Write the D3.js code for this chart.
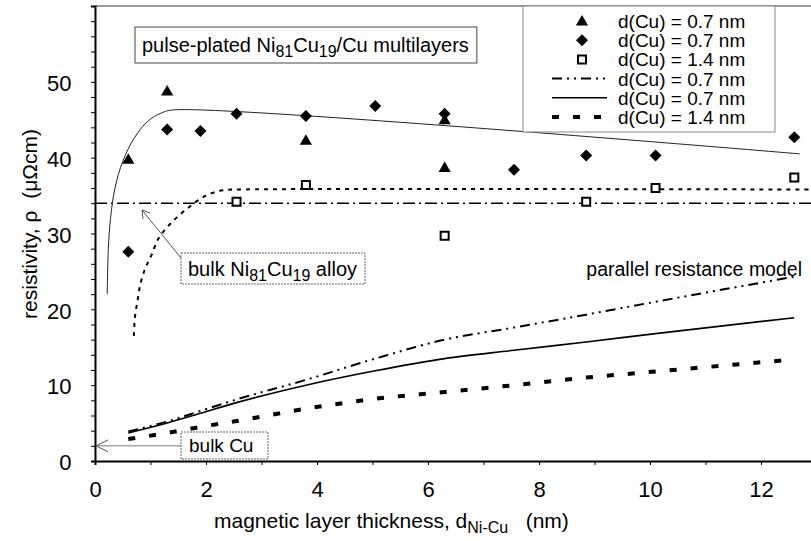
<!DOCTYPE html>
<html>
<head>
<meta charset="utf-8">
<script src="https://cdn.jsdelivr.net/npm/d3@7"></script>
<style>
  body { margin: 0; background: #fff; }
  text { font-family: "Liberation Sans", Arial, sans-serif; fill: #000; }
</style>
</head>
<body>
<script>
// measured points  [thickness nm, resistivity]
var triangles07 = [[0.6, 39.8], [1.3, 48.8], [3.8, 42.3], [6.3, 45.0], [6.3, 38.7]];
var diamonds07 = [[0.6, 27.6], [1.3, 43.7], [1.9, 43.5], [2.55, 45.8], [3.8, 45.5],
                  [5.05, 46.8], [6.3, 45.8], [7.55, 38.4], [8.85, 40.3], [10.1, 40.3], [12.6, 42.7]];
var squares14 = [[2.55, 34.2], [3.8, 36.4], [6.3, 29.7], [8.85, 34.2], [10.1, 36.0], [12.6, 37.4]];

// hand-drawn guide curves
var fitCurve07 = [[0.22, 22], [0.24, 28], [0.28, 32], [0.36, 36], [0.5, 39.5], [0.7, 42.5],
                  [0.95, 44.8], [1.2, 45.9], [1.42, 46.3], [12.7, 40.5]];
var fitCurve14 = [[0.7, 16.5], [0.72, 19], [0.77, 21.3], [0.82, 23.4], [0.9, 25.3], [1.02, 27.2],
                  [1.15, 29.4], [1.4, 31.6], [1.7, 33.5], [2.0, 35], [2.3, 35.7], [2.6, 35.8], [12.9, 35.8]];
var bulkAlloy = 34;
var bulkCu = 2;

// parallel resistance model
var modelX = [0.6, 1.3, 1.9, 2.5, 3.8, 5.05, 6.3, 7.55, 8.85, 10.1, 12.6];
var modelA = [3.9, 5.2, 6.6, 8.0, 10.7, 13.5, 16.0, 17.6, 19.3, 21.0, 24.3];
var modelB = [3.7, 5.0, 6.3, 7.6, 10.0, 11.9, 13.5, 14.6, 15.7, 16.8, 18.9];
var modelC = [2.9, 3.7, 4.5, 5.2, 6.9, 8.2, 9.1, 10.0, 11.0, 11.8, 13.4];

var legendLabels = ["d(Cu) = 0.7 nm", "d(Cu) = 0.7 nm", "d(Cu) = 1.4 nm",
                    "d(Cu) = 0.7 nm", "d(Cu) = 0.7 nm", "d(Cu) = 1.4 nm"];
var xTicks = [0, 2, 4, 6, 8, 10, 12];
var yTicks = [0, 10, 20, 30, 40, 50];

var width = 811, height = 541;
var svg = d3.select("body").append("svg")
    .attr("width", width)
    .attr("height", height);

var x = d3.scaleLinear().domain([0, 13]).range([95, 95 + 13 * 55.5]);
var y = d3.scaleLinear().domain([0, 60]).range([461, 6]);

var smooth = d3.line().curve(d3.curveMonotoneX)
    .x(function(d){ return x(d[0]); }).y(function(d){ return y(d[1]); });
var smoothY = d3.line().curve(d3.curveCatmullRom)
    .x(function(d){ return x(d[0]); }).y(function(d){ return y(d[1]); });

// top frame line
svg.append("line").attr("x1", 95).attr("x2", width).attr("y1", y(60)).attr("y2", y(60))
    .attr("stroke", "#333").attr("stroke-width", 1.2);

// axes
var xAxis = d3.axisBottom(x).tickValues(d3.range(0, 14, 1)).tickSize(4)
    .tickFormat(function(d){ return xTicks.indexOf(d) >= 0 ? d : ""; });
var gx = svg.append("g").attr("transform", "translate(0," + y(0) + ")").call(xAxis);
gx.select(".domain").attr("stroke-width", 2);
gx.selectAll("text").attr("font-size", 22).attr("dy", "1.3em")
    .attr("font-family", "Liberation Sans, Arial, sans-serif");

var yAxis = d3.axisLeft(y).tickValues(d3.range(0, 61, 2)).tickSize(4)
    .tickFormat(function(d){ return yTicks.indexOf(d) >= 0 ? d : ""; });
var gy = svg.append("g").attr("transform", "translate(" + x(0) + ",0)").call(yAxis);
gy.select(".domain").attr("stroke-width", 2);
gy.selectAll("text").attr("font-size", 22).attr("dx", "-0.75em").attr("dy", "0.4em")
    .attr("font-family", "Liberation Sans, Arial, sans-serif");

// axis titles
var xt = svg.append("text").attr("x", 214).attr("y", 528).attr("font-size", 21);
xt.append("tspan").text("magnetic layer thickness, d");
xt.append("tspan").attr("font-size", 16).attr("dy", 5).text("Ni-Cu");
xt.append("tspan").attr("dy", -5).text("\u00a0\u00a0\u00a0(nm)");

svg.append("text").attr("transform", "translate(37,224) rotate(-90)")
    .attr("text-anchor", "middle").attr("font-size", 21)
    .text("resistivity, \u03c1\u00a0\u00a0(\u03bc\u03a9cm)");

// bulk alloy horizontal line
svg.append("line").attr("x1", x(0)).attr("x2", width).attr("y1", y(bulkAlloy)).attr("y2", y(bulkAlloy))
    .attr("stroke", "#000").attr("stroke-width", 1.5).attr("stroke-dasharray", "12,4,2,4");

// guide curves
svg.append("path").attr("d", smoothY(fitCurve07)).attr("fill", "none")
    .attr("stroke", "#222").attr("stroke-width", 1);
svg.append("path").attr("d", smoothY(fitCurve14)).attr("fill", "none")
    .attr("stroke", "#000").attr("stroke-width", 2).attr("stroke-dasharray", "4,5");

// model lines
function pairs(vals){ return modelX.map(function(v, i){ return [v, vals[i]]; }); }
var modelStyles = [
  {vals: modelA, w: 2, dash: "10,5,2,5,2,5"},
  {vals: modelB, w: 1.6, dash: null},
  {vals: modelC, w: 4, dash: "7,14"}
];
modelStyles.forEach(function(m){
  svg.append("path").attr("d", smooth(pairs(m.vals))).attr("fill", "none")
    .attr("stroke", "#000").attr("stroke-width", m.w)
    .attr("stroke-dasharray", m.dash);
});

// markers
var triSym = d3.symbol().type(d3.symbolTriangle).size(64);
var diaSym = d3.symbol().type(d3.symbolSquare).size(72);
var sqSym = d3.symbol().type(d3.symbolSquare).size(64);

svg.selectAll(".tri").data(triangles07).enter().append("path").attr("class", "tri")
    .attr("d", triSym).attr("fill", "#000")
    .attr("transform", function(d){ return "translate(" + x(d[0]) + "," + (y(d[1]) + 1) + ")"; });
svg.selectAll(".dia").data(diamonds07).enter().append("path").attr("class", "dia")
    .attr("d", diaSym).attr("fill", "#000")
    .attr("transform", function(d){ return "translate(" + x(d[0]) + "," + y(d[1]) + ") rotate(45)"; });
svg.selectAll(".sq").data(squares14).enter().append("path").attr("class", "sq")
    .attr("d", sqSym).attr("fill", "#fff").attr("stroke", "#000").attr("stroke-width", 2)
    .attr("transform", function(d){ return "translate(" + x(d[0]) + "," + y(d[1]) + ")"; });

// legend
var lg = svg.append("g");
lg.append("rect").attr("x", 523).attr("y", 6).attr("width", 252).attr("height", 126)
    .attr("fill", "#fff").attr("stroke", "#888").attr("stroke-width", 1);
legendLabels.forEach(function(lbl, i){
  var cy = 21 + i * 19.2;
  lg.append("text").attr("x", 618).attr("y", cy + 7).attr("font-size", 19).text(lbl);
  if (i === 0) lg.append("path").attr("d", triSym).attr("transform", "translate(582," + (cy + 1) + ")");
  if (i === 1) lg.append("path").attr("d", diaSym).attr("transform", "translate(582," + cy + ") rotate(45)");
  if (i === 2) lg.append("path").attr("d", sqSym).attr("fill", "#fff").attr("stroke", "#000")
      .attr("stroke-width", 2).attr("transform", "translate(582," + cy + ")");
  if (i >= 3) {
    var m = modelStyles[i - 3];
    lg.append("line").attr("x1", 552).attr("x2", 607).attr("y1", cy).attr("y2", cy)
      .attr("stroke", "#000").attr("stroke-width", m.w).attr("stroke-dasharray", m.dash);
  }
});

// annotation boxes (box sized to its text)
function subText(g, xx, yy, fs, parts){
  var t = g.append("text").attr("x", xx).attr("y", yy).attr("font-size", fs);
  parts.forEach(function(p){
    if (p.sub) t.append("tspan").attr("font-size", fs * 0.8).attr("dy", 5).text(p.t);
    else t.append("tspan").attr("dy", p.back ? -5 : 0).text(p.t);
  });
  return t;
}
var t1 = subText(svg, 142, 52, 20, [{t: "pulse-plated Ni"}, {t: "81", sub: true}, {t: "Cu", back: true},
    {t: "19", sub: true}, {t: "/Cu multilayers", back: true}]);
var b1 = t1.node().getBBox();
svg.append("rect").attr("x", 135).attr("y", 27).attr("width", b1.x + b1.width + 8 - 135).attr("height", 36)
    .attr("fill", "#fff").attr("stroke", "#444").attr("stroke-width", 1);
t1.raise();

svg.append("line").attr("x1", 181).attr("y1", 258).attr("x2", 142).attr("y2", 210)
    .attr("stroke", "#555").attr("stroke-width", 1);
svg.append("path").attr("d", "M150,213 L142,210 L143,219").attr("fill", "none")
    .attr("stroke", "#555").attr("stroke-width", 1);
var t2 = subText(svg, 188, 276, 20, [{t: "bulk Ni"}, {t: "81", sub: true}, {t: "Cu", back: true},
    {t: "19", sub: true}, {t: " alloy", back: true}]);
var b2 = t2.node().getBBox();
svg.append("rect").attr("x", 181).attr("y", 253).attr("width", b2.x + b2.width + 8 - 181).attr("height", 31)
    .attr("fill", "#fff").attr("stroke", "#666").attr("stroke-width", 1).attr("stroke-dasharray", "2,1");
t2.raise();

svg.append("line").attr("x1", 181).attr("y1", y(bulkCu)).attr("x2", x(0) + 1).attr("y2", y(bulkCu))
    .attr("stroke", "#777").attr("stroke-width", 1);
svg.append("path").attr("d", "M108," + (y(bulkCu) - 6) + " L96," + y(bulkCu) + " L108," + (y(bulkCu) + 6))
    .attr("fill", "none").attr("stroke", "#555").attr("stroke-width", 1);
svg.append("rect").attr("x", 181).attr("y", 432).attr("width", 87).attr("height", 27)
    .attr("fill", "#fff").attr("stroke", "#666").attr("stroke-width", 1).attr("stroke-dasharray", "2,1");
svg.append("text").attr("x", 189).attr("y", 452).attr("font-size", 19).text("bulk Cu");

svg.append("text").attr("x", 802).attr("y", 276).attr("text-anchor", "end")
    .attr("font-size", 19.5).text("parallel resistance model");
</script>
</body>
</html>
